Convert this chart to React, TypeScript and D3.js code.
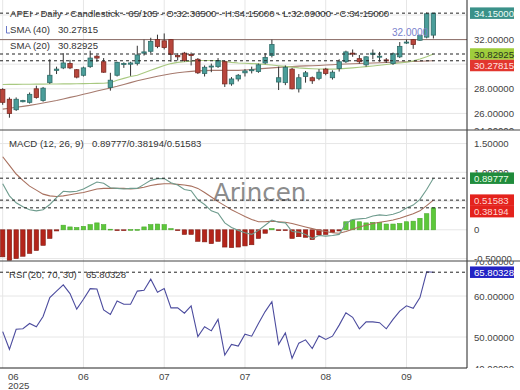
import React from 'react';
import * as d3 from 'd3';

const W = 520;
const H = 390;
const AXIS_X = 467;
const FONT = '"Liberation Sans", Arial, sans-serif';

// ---- data ----
const symbol = 'APEI';
const period = 'Daily';
const chartType = 'Candlestick';
const barInfo = '65/105';

const openP = [27.95, 27.15, 26.3, 26.95, 26.9, 28.0, 27.05, 28.5, 29.5, 29.7, 30.05, 29.55, 29.1, 29.8, 30.65, 30.2, 28.1, 29.1, 30.0, 30.0, 30.05, 30.9, 31.05, 32.0, 31.9, 32.0, 30.7, 30.9, 30.8, 30.4, 29.25, 29.8, 29.8, 30.2, 28.4, 28.8, 29.3, 29.5, 29.4, 30.1, 30.7, 28.55, 28.5, 29.6, 28.0, 29.0, 28.9, 28.85, 29.6, 28.9, 29.65, 30.2, 30.9, 30.45, 29.95, 30.8, 30.6, 30.35, 30.05, 30.6, 31.75, 32.0, 31.95, 32.2, 32.365];
const highP = [28.05, 27.3, 27.3, 27.1, 27.7, 28.25, 28.15, 30.4, 29.8, 30.9, 30.35, 29.6, 29.8, 31.1, 30.75, 30.5, 29.3, 30.2, 30.15, 30.2, 31.5, 32.0, 32.15, 32.4, 32.5, 32.05, 30.9, 31.0, 30.95, 30.5, 29.9, 30.05, 30.5, 30.3, 28.95, 29.2, 29.6, 29.8, 30.05, 30.9, 32.0, 29.8, 29.9, 29.7, 29.2, 29.45, 29.0, 29.6, 29.7, 29.5, 30.4, 31.1, 31.2, 30.75, 30.65, 31.2, 31.0, 30.5, 30.95, 31.8, 32.0, 32.05, 32.4, 34.2, 34.15];
const lowP = [26.7, 25.65, 26.2, 26.9, 26.8, 27.2, 26.95, 28.4, 29.2, 29.6, 29.6, 28.85, 29.0, 29.7, 30.2, 29.3, 27.85, 29.0, 29.7, 29.05, 29.9, 30.7, 30.9, 31.3, 31.2, 30.2, 30.3, 30.2, 29.9, 29.2, 29.0, 29.35, 29.7, 28.15, 28.25, 28.6, 29.0, 29.25, 29.3, 30.0, 30.55, 27.9, 28.3, 27.95, 27.7, 28.5, 28.4, 28.7, 29.1, 28.75, 29.4, 30.1, 30.6, 30.05, 29.8, 30.4, 30.2, 30.1, 29.95, 30.5, 31.65, 31.25, 31.9, 32.1, 32.09];
const closeP = [26.9, 26.0, 27.15, 27.05, 27.55, 27.3, 28.05, 29.1, 29.6, 30.1, 29.7, 28.95, 29.7, 30.5, 30.5, 29.35, 28.7, 30.15, 30.05, 30.1, 30.75, 31.0, 31.85, 31.45, 31.35, 30.8, 30.6, 30.3, 30.7, 29.3, 29.75, 29.85, 30.3, 28.4, 28.8, 29.1, 29.45, 29.55, 29.95, 30.55, 31.6, 28.9, 29.75, 28.0, 28.9, 29.3, 28.65, 29.35, 29.25, 29.35, 30.2, 31.0, 30.85, 30.2, 30.6, 30.9, 30.65, 30.3, 30.85, 31.45, 31.8, 31.6, 32.35, 34.1, 34.15];

const sma20 = [28.35, 28.36, 28.36, 28.37, 28.37, 28.38, 28.38, 28.39, 28.39, 28.4, 28.4, 28.41, 28.42, 28.43, 28.44, 28.45, 28.5, 28.7, 28.85, 29.0, 29.1, 29.3, 29.5, 29.7, 29.9, 30.05, 30.15, 30.2, 30.25, 30.3, 30.3, 30.3, 30.28, 30.22, 30.15, 30.1, 30.08, 30.05, 30.03, 29.98, 29.93, 29.88, 29.82, 29.76, 29.7, 29.66, 29.63, 29.61, 29.6, 29.6, 29.62, 29.66, 29.7, 29.75, 29.8, 29.86, 29.92, 29.98, 30.04, 30.1, 30.17, 30.27, 30.42, 30.6, 30.82925];
const sma40 = [26.35, 26.42, 26.5, 26.57, 26.65, 26.75, 26.85, 26.95, 27.05, 27.17, 27.3, 27.42, 27.55, 27.68, 27.82, 27.95, 28.07, 28.2, 28.35, 28.5, 28.65, 28.78, 28.9, 29.02, 29.12, 29.22, 29.3, 29.36, 29.42, 29.46, 29.48, 29.5, 29.5, 29.5, 29.5, 29.5, 29.53, 29.57, 29.62, 29.66, 29.7, 29.74, 29.78, 29.81, 29.84, 29.86, 29.88, 29.9, 29.93, 29.96, 30.0, 30.02, 30.04, 30.06, 30.08, 30.1, 30.12, 30.14, 30.16, 30.18, 30.2, 30.22, 30.24, 30.26, 30.27815];

const macdLine = [0.8, 0.59, 0.47, 0.4, 0.35, 0.33, 0.35, 0.44, 0.56, 0.67, 0.66, 0.67, 0.71, 0.77, 0.83, 0.81, 0.73, 0.72, 0.71, 0.72, 0.72, 0.79, 0.86, 0.89, 0.89, 0.82, 0.78, 0.7, 0.68, 0.52, 0.44, 0.33, 0.29, 0.12, 0.04, -0.01, -0.05, -0.08, -0.01, 0.08, 0.17, 0.13, 0.12, -0.03, -0.04, -0.08, -0.15, -0.1, -0.11, -0.1, -0.08, 0.11, 0.18, 0.19, 0.2, 0.24, 0.26, 0.25, 0.27, 0.31, 0.38, 0.43, 0.53, 0.7, 0.89777];
const signalLine = [1.27, 1.12, 0.97, 0.86, 0.76, 0.69, 0.62, 0.59, 0.58, 0.59, 0.61, 0.63, 0.65, 0.68, 0.71, 0.72, 0.72, 0.72, 0.72, 0.71, 0.72, 0.74, 0.77, 0.79, 0.8, 0.8, 0.79, 0.78, 0.76, 0.72, 0.65, 0.57, 0.49, 0.42, 0.35, 0.29, 0.23, 0.18, 0.14, 0.14, 0.15, 0.14, 0.13, 0.11, 0.08, 0.05, 0.02, -0.01, -0.03, -0.05, -0.06, -0.03, 0.01, 0.05, 0.08, 0.11, 0.13, 0.15, 0.17, 0.2, 0.24, 0.28, 0.33, 0.42, 0.51583];
const histogram = [-0.47, -0.53, -0.5, -0.46, -0.41, -0.36, -0.27, -0.15, -0.02, 0.08, 0.05, 0.04, 0.06, 0.09, 0.12, 0.09, 0.01, -0.005, -0.005, 0.005, 0.005, 0.05, 0.09, 0.1, 0.09, 0.02, -0.01, -0.08, -0.08, -0.2, -0.21, -0.24, -0.2, -0.3, -0.31, -0.3, -0.28, -0.26, -0.15, -0.06, 0.02, -0.01, -0.01, -0.15, -0.12, -0.13, -0.17, -0.09, -0.08, -0.05, -0.02, 0.14, 0.17, 0.14, 0.12, 0.13, 0.13, 0.1, 0.1, 0.11, 0.14, 0.15, 0.2, 0.28, 0.38194];

const rsi = [51.3, 47.0, 51.9, 52.0, 53.3, 52.5, 55.0, 59.6, 61.2, 62.7, 60.6, 56.8, 59.2, 61.8, 61.7, 56.6, 55.5, 58.8, 58.0, 58.0, 61.2, 61.4, 64.1, 60.9, 61.8, 57.1, 57.1, 55.8, 57.6, 50.1, 52.5, 51.5, 54.3, 45.6, 48.2, 47.8, 50.7, 50.2, 53.3, 56.2, 58.6, 48.2, 51.0, 44.8, 48.5, 49.3, 47.2, 50.3, 49.4, 50.2, 52.9, 55.9, 54.8, 52.0, 53.7, 53.7, 53.5, 52.0, 54.3, 56.3, 57.6, 57.0, 59.6, 65.9, 65.80328];

const priceTicks = [34, 32, 30, 28, 26, 24];
const macdTicks = [1.5, 1.0, 0.5, 0, -0.5];
const rsiTicks = [70, 60, 50, 40];
const xTickIndex = [0, 12, 24, 36, 48, 60];
const xTickLabels = ['06', '06', '07', '07', '08', '09'];
const yearLabel = '2025';
const hLineLevel = 32;
const smaPeriods = [40, 20];
const macdParams = [12, 26, 9];
const rsiParams = [20, 70, 30];
const watermark = 'Arincen';

const fmt = (v: number) => v.toFixed(5);

type Box = { y: number; text: string; fill: string; color: string };

function stackBoxes(boxes: Box[], h: number): Box[] {
  const s = [...boxes].sort((a, b) => a.y - b.y);
  for (let i = 1; i < s.length; i++) {
    if (s[i].y - s[i - 1].y < h) s[i] = { ...s[i], y: s[i - 1].y + h };
  }
  return s;
}

export default function App() {
  const n = openP.length;
  const x = d3.scaleLinear().domain([0, n - 1]).range([2.7, 433.4]);
  const yP = d3.scaleLinear().domain([24, 32]).range([138, 39.6]);
  const yM = d3.scaleLinear().domain([-0.5, 1.5]).range([258.55, 143.55]);
  const yR = d3.scaleLinear().domain([40, 70]).range([378, 255]);

  const P = { top: 0, bottom: 130 };
  const M = { top: 130, bottom: 261 };
  const R = { top: 261, bottom: 368 };

  const mkLine = (arr: number[], y: d3.ScaleLinear<number, number>) =>
    d3.line<number>().x((_, i) => x(i)).y((d) => y(d))(arr) || '';

  const last = n - 1;
  const header = `${symbol} - ${period} - ${chartType} - ${barInfo} - O:${fmt(openP[last])} - H:${fmt(highP[last])} - L:${fmt(lowP[last])} - C:${fmt(closeP[last])}`;

  const bw = 4.4;
  const dash = '3,3';
  const boxH = 11.5;

  const priceBoxes = stackBoxes([
    { y: yP(closeP[last]), text: fmt(closeP[last]), fill: '#3a9189', color: '#eafcf6' },
    { y: yP(sma20[last]), text: fmt(sma20[last]), fill: '#9fcd3c', color: '#2a3320' },
    { y: yP(sma40[last]), text: fmt(sma40[last]), fill: '#e2362e', color: '#ffe2e0' },
  ], boxH);
  const macdBoxes = stackBoxes([
    { y: yM(macdLine[last]), text: fmt(macdLine[last]), fill: '#208c3c', color: '#e8ffe8' },
    { y: yM(signalLine[last]), text: fmt(signalLine[last]), fill: '#e4221c', color: '#ffd8d6' },
    { y: yM(histogram[last]), text: fmt(histogram[last]), fill: '#e4221c', color: '#ffd8d6' },
  ], boxH);
  const rsiBoxes = stackBoxes([{ y: yR(rsi[last]), text: fmt(rsi[last]), fill: '#2323c4', color: '#ffffff' }], boxH);

  // labels fully hidden behind a value box are not drawn (as in the reference)
  const hidden = (yy: number, boxes: Box[]) => boxes.some((b) => Math.abs(b.y - yy) < 4);

  const axisLabels = (ticks: number[], y: d3.ScaleLinear<number, number>, p: { top: number; bottom: number }, clip: string, boxes: Box[], f: (v: number) => string) => (
    <g clipPath={`url(#${clip})`}>
      {ticks.map((t) => {
        const yy = Math.max(p.top, Math.min(p.bottom, y(t)));
        if (hidden(yy, boxes)) return null;
        return (
          <text key={t} x={474} y={yy + 3.5} fontSize={9.6} fill="#444" fontFamily={FONT}>
            {f(t)}
          </text>
        );
      })}
    </g>
  );

  const renderBoxes = (boxes: Box[]) =>
    boxes.map((b, i) => (
      <g key={i}>
        <rect x={470} y={b.y - boxH / 2} width={44} height={boxH} fill={b.fill} />
        <text x={474} y={b.y + 3.5} fontSize={9.6} fill={b.color} fontFamily={FONT}>
          {b.text}
        </text>
      </g>
    ));

  const gridV = xTickIndex.map((i) => x(i));

  return (
    <svg width={W} height={H} style={{ position: 'absolute', left: 0, top: 0, background: '#fff' }} fontFamily={FONT}>
      <defs>
        <clipPath id="cp"><rect x={0} y={P.top} width={AXIS_X} height={P.bottom - P.top} /></clipPath>
        <clipPath id="cm"><rect x={0} y={M.top} width={AXIS_X} height={M.bottom - M.top} /></clipPath>
        <clipPath id="cr"><rect x={0} y={R.top} width={AXIS_X} height={R.bottom - R.top} /></clipPath>
        <clipPath id="lp"><rect x={AXIS_X} y={P.top} width={W - AXIS_X} height={P.bottom - P.top} /></clipPath>
        <clipPath id="lm"><rect x={AXIS_X} y={M.top} width={W - AXIS_X} height={M.bottom - M.top} /></clipPath>
        <clipPath id="lr"><rect x={AXIS_X} y={R.top} width={W - AXIS_X} height={R.bottom - R.top} /></clipPath>
      </defs>

      {/* grid */}
      {gridV.map((gx, i) => (
        <line key={'gv' + i} x1={gx} x2={gx} y1={0} y2={R.bottom} stroke="#e6e6e6" />
      ))}
      <g clipPath="url(#cp)">
        {priceTicks.map((t) => (
          <line key={'gp' + t} x1={0} x2={AXIS_X} y1={yP(t)} y2={yP(t)} stroke="#e6e6e6" />
        ))}
      </g>
      <g clipPath="url(#cm)">
        {macdTicks.map((t) => (
          <line key={'gm' + t} x1={0} x2={AXIS_X} y1={yM(t)} y2={yM(t)} stroke="#e6e6e6" />
        ))}
      </g>
      <g clipPath="url(#cr)">
        {rsiTicks.map((t) => (
          <line key={'gr' + t} x1={0} x2={AXIS_X} y1={yR(t)} y2={yR(t)} stroke="#e6e6e6" />
        ))}
      </g>

      {/* watermark */}
      <text x={213} y={201} fontSize={24.5} fill="#8c8c8c" fontFamily='"DejaVu Sans", sans-serif'>
        {watermark}
      </text>

      {/* price panel */}
      <g clipPath="url(#cp)">
        <line x1={0} x2={AXIS_X} y1={yP(hLineLevel)} y2={yP(hLineLevel)} stroke="#8a6c66" strokeWidth={1} />
        <path d={mkLine(sma40, yP)} fill="none" stroke="#a67a6e" strokeWidth={1.1} />
        <path d={mkLine(sma20, yP)} fill="none" stroke="#a9c981" strokeWidth={1.1} />
        {openP.map((o, i) => {
          const c = closeP[i];
          const up = c >= o;
          const top = yP(Math.max(o, c));
          const bot = yP(Math.min(o, c));
          const cx = x(i);
          return (
            <g key={'c' + i}>
              <line x1={cx} x2={cx} y1={yP(highP[i])} y2={yP(lowP[i])} stroke="#333" strokeWidth={1} />
              <rect
                x={cx - bw / 2}
                y={top}
                width={bw}
                height={Math.max(1, bot - top)}
                fill={up ? '#4a9d99' : '#b8463c'}
                stroke={up ? '#2f6d69' : '#7c2b24'}
                strokeWidth={0.8}
              />
            </g>
          );
        })}
        <line x1={0} x2={AXIS_X} y1={yP(closeP[last])} y2={yP(closeP[last])} stroke="#222" strokeDasharray={dash} />
        <line x1={0} x2={AXIS_X} y1={yP(sma20[last])} y2={yP(sma20[last])} stroke="#222" strokeDasharray={dash} />
        <line x1={0} x2={AXIS_X} y1={yP(sma40[last])} y2={yP(sma40[last])} stroke="#222" strokeDasharray={dash} />
        <text x={392} y={yP(hLineLevel) - 3.5} fontSize={10} fill="#7a82cc" fontFamily={FONT}>
          {hLineLevel.toFixed(4)}
        </text>
      </g>

      {/* macd panel */}
      <g clipPath="url(#cm)">
        {histogram.map((h, i) => {
          const y0 = yM(0);
          const y1 = yM(h);
          return (
            <rect
              key={'h' + i}
              x={x(i) - bw / 2}
              y={Math.min(y0, y1)}
              width={bw}
              height={Math.max(0.8, Math.abs(y1 - y0))}
              fill={h >= 0 ? '#5cc83a' : '#b4241a'}
              stroke={h >= 0 ? '#4aa82c' : '#7e1a12'}
              strokeWidth={0.6}
            />
          );
        })}
        <path d={mkLine(signalLine, yM)} fill="none" stroke="#a8705e" strokeWidth={1.1} />
        <path d={mkLine(macdLine, yM)} fill="none" stroke="#6f9c8e" strokeWidth={1.1} />
        <line x1={0} x2={AXIS_X} y1={yM(macdLine[last])} y2={yM(macdLine[last])} stroke="#222" strokeDasharray={dash} />
        <line x1={0} x2={AXIS_X} y1={yM(signalLine[last])} y2={yM(signalLine[last])} stroke="#222" strokeDasharray={dash} />
        <line x1={0} x2={AXIS_X} y1={yM(histogram[last])} y2={yM(histogram[last])} stroke="#222" strokeDasharray={dash} />
      </g>

      {/* rsi panel */}
      <g clipPath="url(#cr)">
        <path d={mkLine(rsi, yR)} fill="none" stroke="#4c4c9e" strokeWidth={1.1} />
        <line x1={0} x2={AXIS_X} y1={yR(rsi[last])} y2={yR(rsi[last])} stroke="#222" strokeDasharray={dash} />
      </g>

      {/* titles / legends */}
      <text x={10} y={16.5} fontSize={9.6} fill="#333">{header}</text>
      <path d="M6.5,26 V33 H10" fill="none" stroke="#6a78c8" strokeWidth={1} />
      <text x={10} y={33} fontSize={9.6} fill="#333">{`SMA (${smaPeriods[0]})`}</text>
      <text x={58} y={33} fontSize={9.6} fill="#333">{fmt(sma40[last])}</text>
      <text x={10} y={49} fontSize={9.6} fill="#333">{`SMA (${smaPeriods[1]})`}</text>
      <text x={58} y={49} fontSize={9.6} fill="#333">{fmt(sma20[last])}</text>
      <text x={9} y={147} fontSize={9.6} fill="#333">{`MACD (${macdParams.join(', ')})`}</text>
      <text x={92} y={147} fontSize={9.6} fill="#333">
        {`${fmt(macdLine[last])}/${fmt(histogram[last])}/${fmt(signalLine[last])}`}
      </text>
      <text x={9} y={278} fontSize={9.6} fill="#333">{`RSI (${rsiParams.join(', ')})`}</text>
      <text x={86} y={278} fontSize={9.6} fill="#333">{fmt(rsi[last])}</text>

      {/* axis labels */}
      {axisLabels(priceTicks, yP, P, 'lp', priceBoxes, fmt)}
      {axisLabels(macdTicks, yM, M, 'lm', macdBoxes, (v) => (v === 0 ? '0' : fmt(v)))}
      {axisLabels(rsiTicks, yR, R, 'lr', rsiBoxes, fmt)}

      {renderBoxes(priceBoxes)}
      {renderBoxes(macdBoxes)}
      {renderBoxes(rsiBoxes)}

      {/* frame lines */}
      <line x1={AXIS_X} x2={AXIS_X} y1={0} y2={R.bottom} stroke="#222" strokeWidth={1} />
      <line x1={0} x2={W} y1={P.bottom} y2={P.bottom} stroke="#444" strokeWidth={1} />
      <line x1={0} x2={W} y1={M.bottom} y2={M.bottom} stroke="#444" strokeWidth={1} />
      <line x1={0} x2={AXIS_X} y1={R.bottom} y2={R.bottom} stroke="#222" strokeWidth={1} />

      {/* x axis labels */}
      {xTickIndex.map((ti, k) => (
        <text
          key={'xt' + k}
          x={k === 0 ? 8 : x(ti)}
          y={380}
          fontSize={9.6}
          fill="#444"
          textAnchor={k === 0 ? 'start' : 'middle'}
        >
          {xTickLabels[k]}
        </text>
      ))}
      <text x={8} y={388.5} fontSize={9.6} fill="#444">{yearLabel}</text>
    </svg>
  );
}
